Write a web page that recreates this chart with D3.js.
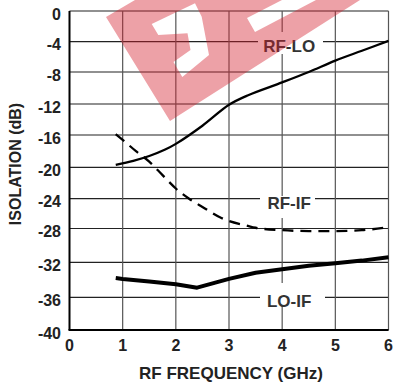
<!DOCTYPE html>
<html><head><meta charset="utf-8">
<script src="https://cdn.jsdelivr.net/npm/d3@7/dist/d3.min.js"></script>
<style>
html,body{margin:0;padding:0;background:#fff;}
svg text{font-family:"Liberation Sans",Arial,sans-serif;font-weight:bold;}
</style></head>
<body><svg id="c" width="394" height="387"></svg>
<script>
// ---- data ----
const xTicks = [0, 1, 2, 3, 4, 5, 6];
const yTicks = [0, -4, -8, -12, -16, -20, -24, -28, -32, -36, -40];
const rfLo = [[0.87,-19.7],[1.2,-19.2],[1.5,-18.6],[1.8,-17.8],[2.0,-17.1],[2.5,-14.8],[3.0,-12.1],[3.36,-10.9],[4.0,-9.3],[4.5,-8.0],[5.0,-6.5],[5.5,-5.2],[6.0,-3.9]];
const rfIf = [[0.87,-15.9],[1.0,-16.6],[1.25,-18.0],[1.5,-19.3],[1.75,-21.0],[2.0,-22.7],[2.25,-24.0],[2.5,-25.1],[2.83,-26.5],[3.0,-27.0],[3.33,-27.6],[3.5,-27.9],[4.0,-28.2],[4.5,-28.3],[5.0,-28.3],[5.5,-28.2],[6.0,-27.8]];
const loIf = [[0.87,-33.8],[1.0,-33.9],[1.5,-34.2],[2.0,-34.5],[2.4,-34.9],[3.0,-33.9],[3.5,-33.2],[4.0,-32.8],[4.5,-32.4],[5.0,-32.1],[5.5,-31.8],[6.0,-31.4]];
const seriesLabels = [{text:"RF-LO", x:4.0, y:-4.3},{text:"RF-IF", x:4.0, y:-24.3},{text:"LO-IF", x:4.0, y:-36.2}];
const xTitle = "RF FREQUENCY (GHz)";
const yTitle = "ISOLATION (dB)";

// ---- layout ----
const svg = d3.select("#c");
const x = d3.scaleLinear().domain([0,6]).range([69.5,388.5]);
// gridlines of the original are slightly uneven; polylinear scale follows them
const yPix = [11,41.7,72,104,135,167.3,198.7,228.5,262.3,297.3,330];
const y = d3.scaleLinear().domain(yTicks).range(yPix);

const g = svg.append("g");
// gridlines
g.selectAll(".hg").data(yTicks).join("line")
  .attr("x1", x(0)).attr("x2", x(6)).attr("y1", d=>y(d)).attr("y2", d=>y(d))
  .attr("stroke", "#222").attr("stroke-width", 1.2);
g.selectAll(".vg").data(xTicks).join("line")
  .attr("x1", d=>x(d)).attr("x2", d=>x(d)).attr("y1", y(0)).attr("y2", y(-40))
  .attr("stroke", d=> d===0 ? "#000" : "#555").attr("stroke-width", d=> d===0 ? 2 : 1.2);
// bottom axis line
g.append("line").attr("x1", x(0)-1).attr("x2", x(6)).attr("y1", y(-40)).attr("y2", y(-40))
  .attr("stroke", "#000").attr("stroke-width", 2);

// label boxes (white knockouts)
const labelBoxes = [{x0:258,x1:323,y0:32,y1:54},{x0:260,x1:315,y0:196,y1:218},{x0:260,x1:325,y0:283,y1:306}];
g.selectAll(".lb").data(labelBoxes).join("rect")
  .attr("x", d=>d.x0).attr("y", d=>d.y0).attr("width", d=>d.x1-d.x0).attr("height", d=>d.y1-d.y0)
  .attr("fill", "#fff");

// curves
const line = d3.line().x(d=>x(d[0])).y(d=>y(d[1])).curve(d3.curveMonotoneX);
const lineSmooth = d3.line().x(d=>x(d[0])).y(d=>y(d[1])).curve(d3.curveCatmullRom.alpha(0.5));
const lineStraight = d3.line().x(d=>x(d[0])).y(d=>y(d[1]));
g.append("path").datum(rfLo).attr("d", lineSmooth).attr("fill","none").attr("stroke","#000").attr("stroke-width",2.3);
g.append("path").datum(rfIf).attr("d", line).attr("fill","none").attr("stroke","#000").attr("stroke-width",2.3).attr("stroke-dasharray","11,7");
g.append("path").datum(loIf).attr("d", lineStraight).attr("fill","none").attr("stroke","#000").attr("stroke-width",4).attr("stroke-linejoin","round");

// series labels
g.selectAll(".sl").data(seriesLabels).join("text")
  .attr("x", d=>x(d.x)+7).attr("y", d=>y(d.y)+8)
  .attr("text-anchor","middle").attr("font-size", 17).attr("fill","#333")
  .text(d=>d.text);

// tick labels
g.selectAll(".yl").data(yTicks).join("text")
  .attr("x", 61).attr("y", d=>y(d)+8.5).attr("text-anchor","end")
  .attr("font-size", 16).attr("fill","#222").text(d=>d);
g.selectAll(".xl").data(xTicks).join("text")
  .attr("x", d=>x(d)).attr("y", 351).attr("text-anchor","middle")
  .attr("font-size", 16).attr("fill","#222").text(d=>d);

// titles
g.append("text").attr("x", 231).attr("y", 379).attr("text-anchor","middle")
  .attr("font-size", 17).attr("fill","#222").text(xTitle);
g.append("text").attr("transform","translate(21,164) rotate(-90)").attr("text-anchor","middle")
  .attr("font-size", 16).attr("fill","#222").text(yTitle);

// watermark overlay (pink logo with white glyph holes)
const wm = "M106,17 L135,0 L360,0 L170,121 Z " +
  "M151.7,24 L195,3.3 L201.7,16.7 L209,55 L182.3,77 L173.5,62 L190.5,50 L187.5,33.3 L158.3,35 Z " +
  "M247,18 L282,0 L316,0 L255,32 Z";
svg.append("path").attr("d", wm).attr("fill-rule","evenodd")
  .attr("fill","#d4202e").attr("fill-opacity",0.42);
</script></body></html>
